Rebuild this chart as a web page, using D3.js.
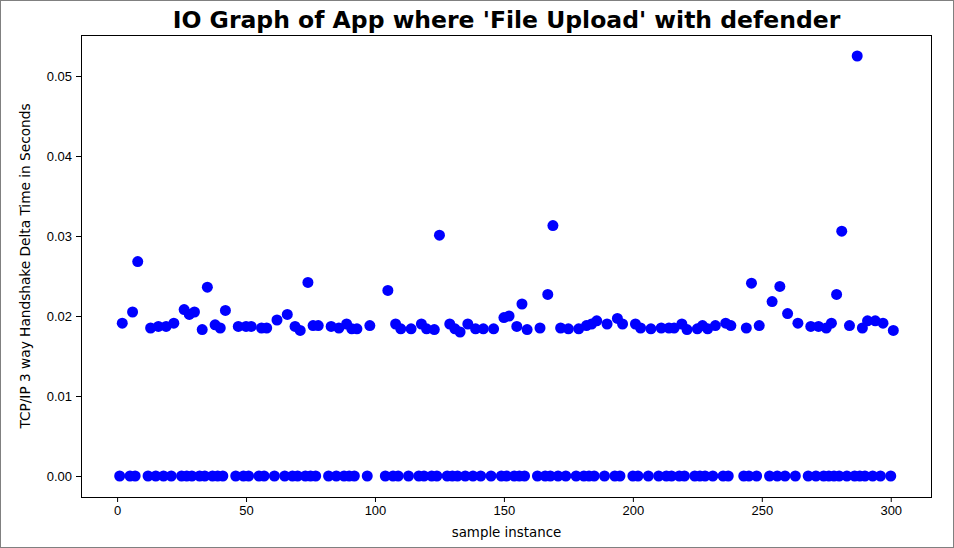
<!DOCTYPE html>
<html>
<head>
<meta charset="utf-8">
<script src="https://cdn.jsdelivr.net/npm/d3@7"></script>
<style>
  body { margin: 0; background: #fff; }
  svg { display: block; font-family: "DejaVu Sans", sans-serif; }
  .axis text { font-size: 13px; fill: #000; }
  .axis path, .axis line { stroke: #000; }
</style>
</head>
<body>
<svg width="954" height="548"></svg>
<script>
// sample index of each packet and its handshake delta (seconds)
const sampleIndex = [
  1, 2, 5, 6, 7, 8, 12, 13, 15, 16, 18, 19, 21, 22, 25, 26, 27, 28, 29, 30,
  32, 33, 34, 35, 37, 38, 39, 40, 41, 42, 46, 47, 49, 50, 51, 52, 55, 56, 57, 58,
  61, 62, 65, 66, 68, 69, 70, 71, 73, 74, 75, 76, 77, 78, 82, 83, 85, 86, 88, 89,
  90, 91, 92, 93, 97, 98, 104, 105, 107, 108, 109, 110, 113, 114, 117, 118, 119, 120, 122, 123,
  124, 125, 128, 129, 130, 131, 132, 133, 135, 136, 138, 139, 141, 142, 145, 146, 149, 150, 151, 152,
  154, 155, 156, 157, 158, 159, 163, 164, 166, 167, 168, 169, 171, 172, 174, 175, 178, 179, 181, 182,
  183, 184, 185, 186, 189, 190, 193, 194, 195, 196, 200, 201, 202, 203, 206, 207, 210, 211, 213, 214,
  215, 216, 218, 219, 220, 221, 224, 225, 226, 227, 228, 229, 231, 232, 235, 236, 237, 238, 243, 244,
  245, 246, 248, 249, 253, 254, 256, 257, 259, 260, 263, 264, 268, 269, 271, 272, 274, 275, 276, 277,
  278, 279, 280, 281, 283, 284, 286, 287, 288, 289, 290, 291, 293, 294, 296, 297, 300, 301
];

const deltaTime = [
  0, 0.0191, 0, 0.0205, 0, 0.0268, 0, 0.0185, 0, 0.0187, 0, 0.0187, 0, 0.0191, 0, 0.0208, 0, 0.0202, 0, 0.0205,
  0, 0.0183, 0, 0.0236, 0, 0.0189, 0, 0.0185, 0, 0.0207, 0, 0.0187, 0, 0.0187, 0, 0.0187, 0, 0.0185, 0, 0.0185,
  0, 0.0195, 0, 0.0202, 0, 0.0187, 0, 0.0182, 0, 0.0242, 0, 0.0188, 0, 0.0188, 0, 0.0187, 0, 0.0185, 0, 0.0190,
  0, 0.0184, 0, 0.0184, 0, 0.0188, 0, 0.0232, 0, 0.0190, 0, 0.0184, 0, 0.0184, 0, 0.0190, 0, 0.0184, 0, 0.0183,
  0, 0.0301, 0, 0.0190, 0, 0.0184, 0, 0.0180, 0, 0.0190, 0, 0.0184, 0, 0.0184, 0, 0.0184, 0, 0.0198, 0, 0.0200,
  0, 0.0187, 0, 0.0215, 0, 0.0183, 0, 0.0185, 0, 0.0227, 0, 0.0313, 0, 0.0185, 0, 0.0184, 0, 0.0184, 0, 0.0188,
  0, 0.0190, 0, 0.0194, 0, 0.0190, 0, 0.0197, 0, 0.0190, 0, 0.0190, 0, 0.0185, 0, 0.0184, 0, 0.0185, 0, 0.0185,
  0, 0.0185, 0, 0.0190, 0, 0.0183, 0, 0.0184, 0, 0.0188, 0, 0.0184, 0, 0.0188, 0, 0.0191, 0, 0.0188, 0, 0.0185,
  0, 0.0241, 0, 0.0188, 0, 0.0218, 0, 0.0237, 0, 0.0203, 0, 0.0191, 0, 0.0187, 0, 0.0187, 0, 0.0185, 0, 0.0191,
  0, 0.0227, 0, 0.0306, 0, 0.0188, 0, 0.0525, 0, 0.0185, 0, 0.0194, 0, 0.0194, 0, 0.0191, 0, 0.0182
];

const xTicks = [0, 50, 100, 150, 200, 250, 300];
const yTicks = [0, 0.01, 0.02, 0.03, 0.04, 0.05];

const titleText = "IO Graph of App where 'File Upload' with defender";
const xLabel = "sample instance";
const yLabel = "TCP/IP 3 way Handshake Delta Time in Seconds";

const svg = d3.select("svg");
const width = +svg.attr("width");
const height = +svg.attr("height");
const plot = {left: 81, right: 932, top: 35, bottom: 497};

const points = sampleIndex.map((d, i) => ({x: d, y: deltaTime[i]}));

// matplotlib style 5% margins
function padded(extent) {
  const pad = (extent[1] - extent[0]) * 0.05;
  return [extent[0] - pad, extent[1] + pad];
}

const x = d3.scaleLinear()
  .domain(padded(d3.extent(sampleIndex)))
  .range([plot.left, plot.right]);

const y = d3.scaleLinear()
  .domain(padded(d3.extent(deltaTime)))
  .range([plot.bottom, plot.top]);

svg.append("rect")
  .attr("x", 0.5).attr("y", 0.5)
  .attr("width", width - 1).attr("height", height - 1)
  .attr("fill", "#fff")
  .attr("stroke", "#808080");

svg.append("g")
  .attr("class", "points")
  .selectAll("circle")
  .data(points)
  .enter()
  .append("circle")
  .attr("cx", d => x(d.x))
  .attr("cy", d => y(d.y))
  .attr("r", 5.5)
  .attr("fill", "#0000ff");

svg.append("g")
  .attr("class", "axis")
  .attr("transform", `translate(0,${plot.bottom})`)
  .call(d3.axisBottom(x).tickValues(xTicks).tickSize(5).tickPadding(4).tickFormat(d3.format("d")))
  .call(g => g.select(".domain").remove())
  .selectAll("text").attr("font-family", null);

svg.append("g")
  .attr("class", "axis")
  .attr("transform", `translate(${plot.left},0)`)
  .call(d3.axisLeft(y).tickValues(yTicks).tickSize(5).tickPadding(4).tickFormat(d3.format(".2f")))
  .call(g => g.select(".domain").remove())
  .selectAll("text").attr("font-family", null);

// frame
svg.append("rect")
  .attr("x", plot.left + 0.5).attr("y", plot.top + 0.5)
  .attr("width", plot.right - plot.left - 1)
  .attr("height", plot.bottom - plot.top)
  .attr("fill", "none")
  .attr("stroke", "#000")
  .attr("stroke-width", 1);

svg.append("text")
  .attr("x", (plot.left + plot.right) / 2)
  .attr("y", 28)
  .attr("text-anchor", "middle")
  .attr("font-size", 23.5)
  .attr("font-weight", "bold")
  .text(titleText);

svg.append("text")
  .attr("x", (plot.left + plot.right) / 2)
  .attr("y", 537)
  .attr("text-anchor", "middle")
  .attr("font-size", 13.4)
  .text(xLabel);

svg.append("text")
  .attr("transform", `translate(30,${(plot.top + plot.bottom) / 2}) rotate(-90)`)
  .attr("text-anchor", "middle")
  .attr("font-size", 13.7)
  .text(yLabel);
</script>
</body>
</html>
